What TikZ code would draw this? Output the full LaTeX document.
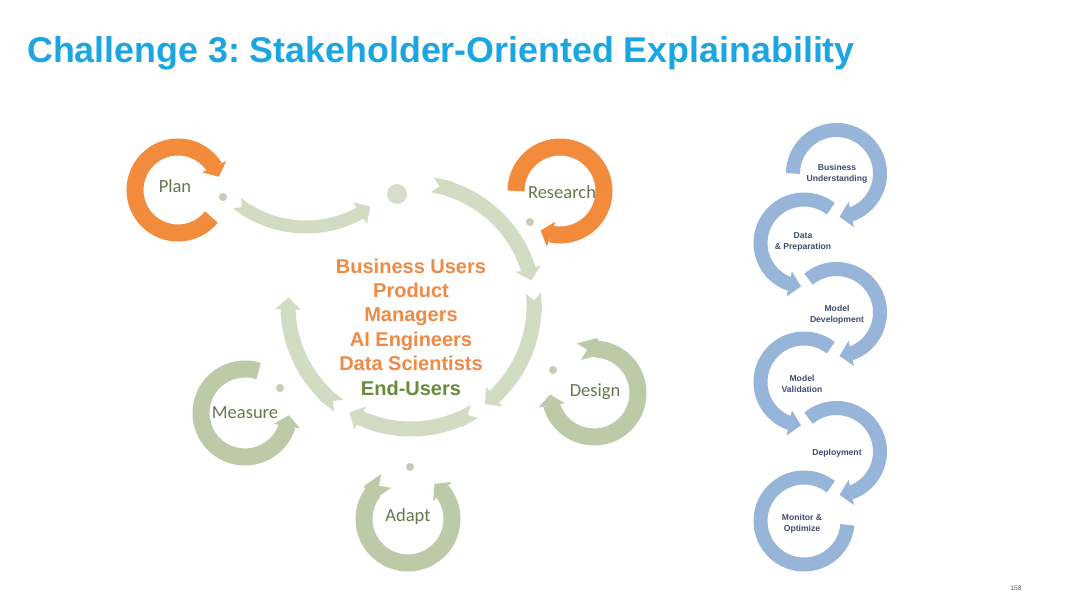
\documentclass[tikz,border=0pt]{standalone}
\usepackage{fontspec}
\setmainfont{Liberation Sans}
\newfontfamily\lblfont{Carlito}
\usetikzlibrary{arrows.meta,bending,calc}
\frenchspacing
\definecolor{titleblue}{HTML}{1BA6E1}
\definecolor{ringorange}{HTML}{F28B3B}
\definecolor{txtorange}{HTML}{EE8A45}
\definecolor{biggreen}{HTML}{D1DCC3}
\definecolor{smallgreen}{HTML}{BCCAA8}
\definecolor{lblgreen}{HTML}{63794C}
\definecolor{endgreen}{HTML}{6A8A3C}
\definecolor{dotgreen}{HTML}{C3CDB6}
\definecolor{topdot}{HTML}{D6DECB}
\definecolor{ringblue}{HTML}{97B4D9}
\definecolor{bluetxt}{HTML}{3E4C6C}
\newcommand{\ringarc}[5]{\draw[#1] ($#2+(#4:#3)$) arc[start angle=#4,end angle=#5,radius=#3];}
\tikzset{
  bigseg/.style={draw=biggreen,line width=15pt},
  smallring/.style={draw=smallgreen,line width=17pt},
  orring/.style={draw=ringorange,line width=17pt},
  bluering/.style={draw=ringblue,line width=14pt},
  bignotch/.style={{Triangle Cap[reversed]}-{Triangle[width=25pt,length=12pt]}},
  smallhead/.style={-{Triangle[width=26pt,length=11pt]}},
  smallnotch/.style={{Triangle Cap[reversed]}-{Triangle[width=26pt,length=11pt]}},
  bluehead/.style={-{Triangle[width=25pt,length=12pt]}},
  sdot/.style={circle,fill=dotgreen,inner sep=0pt,minimum size=8pt},
  lbl/.style={font=\lblfont\fontsize{18.5}{20}\selectfont,text=lblgreen,inner sep=0pt},
  who/.style={anchor=base,inner sep=0pt,font=\fontsize{20}{24}\selectfont\bfseries,text=txtorange},
  btxt/.style={align=center,inner sep=0pt,font=\fontsize{8.6}{11}\selectfont\bfseries,text=bluetxt},
}
\begin{document}
\begin{tikzpicture}[x=1pt,y=1pt]
\fill[white] (0,0) rectangle (1080,-607);
\useasboundingbox (0,0) rectangle (1080,-607);

% title
\node[anchor=base west,inner sep=0pt,text=titleblue,font=\fontsize{35.8}{40}\selectfont\bfseries] (title) at (27,-63) {Challenge 3: Stakeholder-Oriented Explainability};

% centres
\coordinate (big) at (411,-306);
\coordinate (conn) at (306,-115);
\coordinate (plan) at (178,-190);
\coordinate (research) at (560,-191);
\coordinate (design) at (594,-393);
\coordinate (measure) at (245,-413);
\coordinate (adapt) at (408,-519);

% big ring
\ringarc{bigseg,bignotch,line width=13pt}{(conn)}{112}{232}{305}
\ringarc{bigseg,bignotch}{(big)}{123}{80}{12}
\ringarc{bigseg,bignotch}{(big)}{123}{6}{-53}
\ringarc{bigseg,bignotch}{(big)}{123}{-59}{-120}
\ringarc{bigseg,bignotch}{(big)}{123}{-126}{-184}
\node[circle,fill=topdot,inner sep=0pt,minimum size=20pt] (topdot) at (397,-194) {};

% small rings
\ringarc{orring,smallhead}{(plan)}{43}{-39}{-342}
\ringarc{orring,smallhead}{(research)}{44}{180}{-116}
\ringarc{smallring,smallnotch}{(design)}{44}{110}{-178}
\ringarc{smallring,smallhead}{(measure)}{44}{72}{357}
\ringarc{smallring,smallnotch}{(adapt)}{44}{120}{413}

% dots
\node[sdot] (d1) at (223,-197) {};
\node[sdot] (d2) at (530,-222) {};
\node[sdot] (d3) at (553,-370) {};
\node[sdot] (d4) at (280,-388) {};
\node[sdot] (d5) at (410,-467) {};

% labels
\node[lbl] (lplan) at (175,-186) {Plan};
\node[lbl] (lresearch) at (562,-192) {Research};
\node[lbl] (ldesign) at (595,-392) {Design};
\node[lbl] (lmeasure) at (245,-413) {Measure};
\node[lbl] (ladapt) at (408,-517) {Adapt};

% stakeholders
\node[who] (w1) at (411,-273) {Business Users};
\node[who] (w2) at (411,-297.4) {Product};
\node[who] (w3) at (411,-321.8) {Managers};
\node[who] (w4) at (411,-346.2) {AI Engineers};
\node[who] (w5) at (411,-370.6) {Data Scientists};
\node[who,text=endgreen] (w6) at (411,-395) {End-Users};

% right chain
\coordinate (r1) at (836.5,-173.5);
\coordinate (r2) at (804,-243);
\coordinate (r3) at (836.5,-312.5);
\coordinate (r4) at (804,-382);
\coordinate (r5) at (836.5,-451.5);
\coordinate (r6) at (804,-521);
\ringarc{bluering}{(r6)}{43.5}{52}{355}
\ringarc{bluering,bluehead}{(r5)}{43.5}{130}{-86}
\ringarc{bluering,bluehead}{(r4)}{43.5}{52}{266}
\ringarc{bluering,bluehead}{(r3)}{43.5}{130}{-86}
\ringarc{bluering,bluehead}{(r2)}{43.5}{52}{266}
\ringarc{bluering,bluehead}{(r1)}{43.5}{180}{-86}

\node[btxt] (t1) at (837,-174) {Business\\Understanding};
\node[btxt] (t2) at (803,-242) {Data\\\& Preparation};
\node[btxt] (t3) at (837,-315) {Model\\Development};
\node[btxt] (t4) at (802,-384) {Model\\Validation};
\node[btxt] (t5) at (837,-453) {Deployment};
\node[btxt] (t6) at (802,-524) {Monitor \&\\Optimize};

\node[inner sep=0pt,font=\fontsize{6.5}{7}\selectfont,text=black!65] (page) at (1016,-588) {158};
\end{tikzpicture}
\end{document}
